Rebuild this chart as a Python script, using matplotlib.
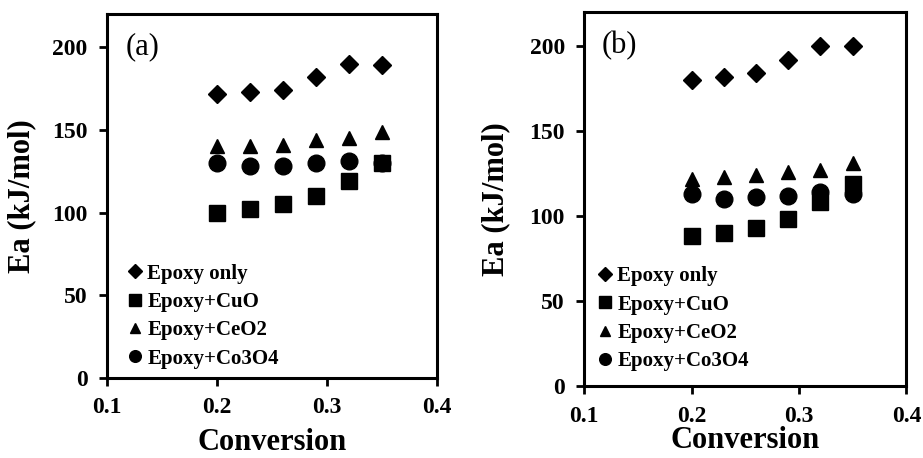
import numpy as np
import matplotlib
matplotlib.use("Agg")
import matplotlib.pyplot as plt

# DATOS
conversion = [0.20, 0.23, 0.26, 0.29, 0.32, 0.35]

# panel (a)
a_epoxy = [172, 173, 174, 182, 190, 189]
a_cuo = [100, 102, 105, 110, 119, 130]
a_ceo2 = [140, 140, 141, 144, 145, 149]
a_co3o4 = [130, 128, 128, 130, 131, 130]

# panel (b)
b_epoxy = [180, 182, 184, 192, 200, 200]
b_cuo = [88, 90, 93, 98, 108, 119]
b_ceo2 = [122, 123, 124, 126, 127, 131]
b_co3o4 = [113, 110, 111, 112, 114, 113]

labels = ["Epoxy only", "Epoxy+CuO", "Epoxy+CeO2", "Epoxy+Co3O4"]
xticks = [0.1, 0.2, 0.3, 0.4]
yticks = [0, 50, 100, 150, 200]

plt.rcParams['font.family'] = ['Liberation Serif', 'DejaVu Serif']
plt.rcParams['font.weight'] = 'bold'

fig = plt.figure(figsize=(9.23, 4.58), dpi=100)

def panel(rect, series, tag, ylab_x, xlab_y, leg_anchor):
    ax = fig.add_axes(rect)
    marks = [('D', 9.5), ('s', 12), ('^', 10.5), ('o', 12)]
    for vals, lab, (m, ms) in zip(series, labels, marks):
        ax.plot(conversion, vals, linestyle='none', marker=m, markersize=ms,
                color='black', label=lab)
    ax.set_xlim(0.1, 0.4)
    ax.set_ylim(0, 220)
    ax.set_xticks(xticks)
    ax.set_xticklabels([str(t) for t in xticks])
    ax.set_yticks(yticks)
    ax.tick_params(direction='out', length=6, width=2, labelsize=17, pad=8)
    for sp in ax.spines.values():
        sp.set_linewidth(2.2)
    ax.set_xlabel('Conversion', fontsize=22, fontweight='bold')
    ax.set_ylabel('Ea (kJ/mol)', fontsize=22, fontweight='bold')
    ax.yaxis.set_label_coords(ylab_x, 0.5)
    ax.xaxis.set_label_coords(0.5, xlab_y)
    ax.text(0.055, 0.95, tag, transform=ax.transAxes, fontsize=22,
            fontweight='normal', va='top', ha='left')
    ax.legend(loc='lower left', bbox_to_anchor=leg_anchor,
              frameon=False, markerscale=0.7, handlelength=0.6,
              handletextpad=0.3, labelspacing=0.4, fontsize=15,
              borderaxespad=0)
    return ax

panel([0.116, 0.175, 0.357, 0.794],
      [a_epoxy, a_cuo, a_ceo2, a_co3o4], '(a)', -0.215, -0.138, (0.04, 0.002))
panel([0.633, 0.157, 0.349, 0.817],
      [b_epoxy, b_cuo, b_ceo2, b_co3o4], '(b)', -0.23, -0.107, (0.018, 0.017))

plt.savefig("out.png", dpi=100)
